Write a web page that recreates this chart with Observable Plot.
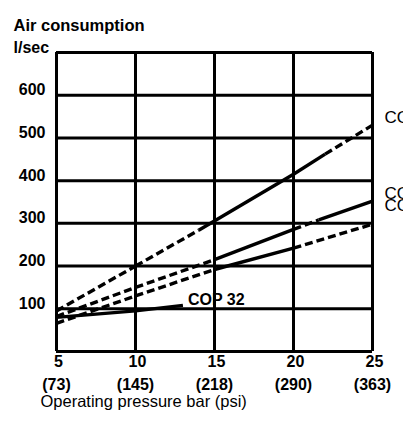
<!DOCTYPE html>
<html><head><meta charset="utf-8">
<script src="https://cdn.jsdelivr.net/npm/d3@7"></script>
<script src="https://cdn.jsdelivr.net/npm/@observablehq/plot@0.6"></script>
<style>
body{margin:0;background:#fff;}
#chart svg{font-family:"Liberation Sans",Arial,sans-serif;}
</style></head><body><div id="chart"></div>
<script>
const xTicks = [5, 10, 15, 20, 25];
const psiLabels = ["(73)", "(145)", "(218)", "(290)", "(363)"];
const yTicks = [100, 200, 300, 400, 500, 600];
const yGrid = [0, 100, 200, 300, 400, 500, 600, 700];
const seriesNames = ["COP 1838", "COP 1238", "COP 1038", "COP 32"];
// points [bar, l/sec] and whether each segment between points is dashed
const copA = [[5, 95], [10, 200], [14, 284], [20, 415], [22, 462], [25, 530]];
const copADashed = [true, true, false, false, true];
const copB = [[5, 82], [10, 150], [15, 215], [20, 286], [21.6, 308], [25, 352]];
const copBDashed = [true, true, false, true, false];
const copC = [[5, 66], [10, 130], [15, 192], [20, 242], [25, 298]];
const copCDashed = [true, true, false, true];
const cop32 = [[5, 80], [10, 95], [13, 108]];
const cop32Dashed = [false, false];

const allSeries = [[copA, copADashed], [copB, copBDashed], [copC, copCDashed], [cop32, cop32Dashed]];
const segments = [];
allSeries.forEach(([pts, dashed], s) => {
  for (let i = 0; i < pts.length - 1; i++) {
    segments.push({series: seriesNames[s], x1: pts[i][0], y1: pts[i][1], x2: pts[i + 1][0], y2: pts[i + 1][1], dashed: dashed[i]});
  }
});
const ends = allSeries.map(([pts], s) => ({name: seriesNames[s], x: pts[pts.length - 1][0], y: pts[pts.length - 1][1]}));

const font = {fontSize: 16, fontWeight: "bold", fill: "black"};
const chart = Plot.plot({
  width: 403, height: 421,
  marginLeft: 56, marginRight: 31, marginTop: 52, marginBottom: 70,
  x: {domain: [5, 25], axis: null},
  y: {domain: [0, 700], axis: null},
  marks: [
    Plot.ruleY(yGrid, {stroke: "black", strokeWidth: 3}),
    Plot.ruleX(xTicks, {stroke: "black", strokeWidth: 3}),
    Plot.link(segments.filter(d => !d.dashed), {x1: "x1", y1: "y1", x2: "x2", y2: "y2", stroke: "black", strokeWidth: 3.4}),
    Plot.link(segments.filter(d => d.dashed), {x1: "x1", y1: "y1", x2: "x2", y2: "y2", stroke: "black", strokeWidth: 3.4, strokeDasharray: "8,4"}),
    Plot.text(ends.slice(0, 1), {x: "x", y: "y", text: "name", textAnchor: "start", dx: 12, dy: -8, ...font, fontSize: 17, fontWeight: "normal"}),
    Plot.text(ends.slice(1, 2), {x: "x", y: "y", text: "name", textAnchor: "start", dx: 12, dy: -8, ...font, fontSize: 17, fontWeight: "normal"}),
    Plot.text(ends.slice(2, 3), {x: "x", y: "y", text: "name", textAnchor: "start", dx: 12, dy: -19, ...font, fontSize: 17, fontWeight: "normal"}),
    Plot.text(ends.slice(3, 4), {x: "x", y: "y", text: "name", textAnchor: "start", dx: 5, dy: -5, ...font}),
    Plot.text(yTicks, {y: d => d, frameAnchor: "left", dx: -11, dy: -5, textAnchor: "end", ...font}),
    Plot.text(xTicks, {x: d => d, frameAnchor: "bottom", dx: 2, dy: 15, ...font}),
    Plot.text(xTicks, {x: d => d, frameAnchor: "bottom", dy: 38, text: d => psiLabels[xTicks.indexOf(d)], ...font}),
    Plot.text(["Air consumption"], {frameAnchor: "top-left", dx: -43, dy: -33, textAnchor: "start", ...font, fontSize: 16.5}),
    Plot.text(["l/sec"], {frameAnchor: "top-left", dx: -43, dy: -11, textAnchor: "start", ...font}),
    Plot.text(["Operating pressure bar (psi)"], {frameAnchor: "bottom-left", dx: -16, dy: 55, textAnchor: "start", ...font, fontSize: 16.5, fontWeight: "normal"})
  ]
});
document.getElementById("chart").append(chart);
</script></body></html>
